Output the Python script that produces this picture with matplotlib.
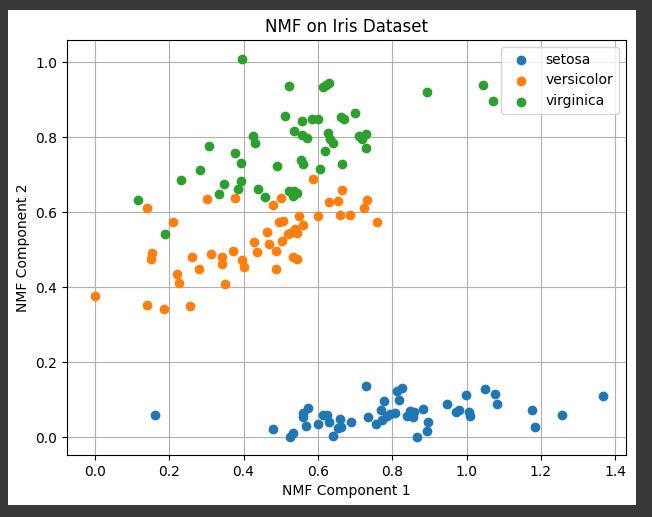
import matplotlib
matplotlib.use("Agg")
import matplotlib.pyplot as plt
from matplotlib.patches import Rectangle

species = ["setosa", "versicolor", "virginica"]

setosa_x = [0.161, 0.478, 0.526, 0.534, 0.559, 0.574, 0.567, 0.599, 0.613, 0.625,
            0.629, 0.641, 0.659, 0.654, 0.663, 0.688, 0.729, 0.736, 0.756, 0.769,
            0.778, 0.772, 0.786, 0.795, 0.808, 0.812, 0.825, 0.818, 0.841, 0.847,
            0.855, 0.859, 0.868, 0.884, 0.896, 0.894, 0.948, 0.971, 0.980, 0.998,
            1.006, 1.010, 1.049, 1.077, 1.082, 1.176, 1.184, 1.256, 1.368, 0.560]
setosa_y = [0.061, 0.022, 0.000, 0.012, 0.065, 0.079, 0.031, 0.036, 0.059, 0.059,
            0.040, 0.004, 0.048, 0.024, 0.027, 0.040, 0.136, 0.054, 0.036, 0.072,
            0.097, 0.046, 0.056, 0.063, 0.064, 0.123, 0.131, 0.099, 0.058, 0.070,
            0.054, 0.068, 0.000, 0.076, 0.040, 0.016, 0.089, 0.068, 0.074, 0.113,
            0.067, 0.056, 0.128, 0.117, 0.090, 0.072, 0.029, 0.059, 0.111, 0.055]

versicolor_x = [0.000, 0.141, 0.185, 0.255, 0.139, 0.155, 0.152, 0.211, 0.220, 0.225,
                0.262, 0.279, 0.301, 0.312, 0.342, 0.341, 0.351, 0.372, 0.377, 0.397,
                0.401, 0.428, 0.435, 0.463, 0.468, 0.480, 0.487, 0.487, 0.496, 0.505,
                0.502, 0.503, 0.519, 0.525, 0.538, 0.545, 0.533, 0.545, 0.549, 0.560,
                0.586, 0.599, 0.630, 0.653, 0.666, 0.660, 0.687, 0.723, 0.733, 0.758]
versicolor_y = [0.377, 0.353, 0.343, 0.351, 0.612, 0.491, 0.477, 0.574, 0.437, 0.413,
                0.482, 0.449, 0.635, 0.490, 0.482, 0.463, 0.408, 0.497, 0.639, 0.473,
                0.454, 0.521, 0.494, 0.548, 0.516, 0.620, 0.497, 0.449, 0.574, 0.578,
                0.639, 0.525, 0.542, 0.544, 0.555, 0.544, 0.480, 0.477, 0.591, 0.566,
                0.690, 0.591, 0.628, 0.631, 0.660, 0.593, 0.593, 0.613, 0.634, 0.574]

virginica_x = [0.396, 0.521, 0.615, 0.621, 0.511, 0.557, 0.585, 0.601, 0.661, 0.670,
               0.700, 0.537, 0.556, 0.570, 0.627, 0.633, 0.640, 0.620, 0.710, 0.426,
               0.431, 0.306, 0.377, 0.393, 0.554, 0.560, 0.491, 0.664, 0.605, 0.282,
               0.231, 0.348, 0.334, 0.393, 0.385, 0.440, 0.458, 0.521, 0.537, 0.532,
               0.117, 0.189, 0.893, 1.043, 1.071, 0.729, 0.719, 0.729, 0.545, 0.630]
virginica_y = [1.009, 0.937, 0.935, 0.941, 0.858, 0.843, 0.850, 0.848, 0.855, 0.848,
               0.865, 0.817, 0.806, 0.799, 0.812, 0.795, 0.786, 0.764, 0.804, 0.803,
               0.786, 0.778, 0.759, 0.732, 0.741, 0.728, 0.723, 0.728, 0.715, 0.714,
               0.687, 0.677, 0.649, 0.683, 0.663, 0.663, 0.642, 0.657, 0.657, 0.644,
               0.632, 0.543, 0.920, 0.939, 0.898, 0.810, 0.795, 0.771, 0.652, 0.945]

fig = plt.figure(figsize=(6.52, 5.17), dpi=100, facecolor="#383838")
fig.patches.append(Rectangle((8/652, 12/517), 628/652, 495/517, transform=fig.transFigure,
                             facecolor="white", edgecolor="none", zorder=-10))
ax = fig.add_axes([67/652, 62/517, 559/652, 415/517])

data = [(setosa_x, setosa_y), (versicolor_x, versicolor_y), (virginica_x, virginica_y)]
for name, (xs, ys) in zip(species, data):
    ax.scatter(xs, ys, label=name, zorder=3)

ax.set_xlim(-0.075, 1.429)
ax.set_ylim(-0.047, 1.06)
ax.set_xticks([0.0, 0.2, 0.4, 0.6, 0.8, 1.0, 1.2, 1.4])
ax.set_yticks([0.0, 0.2, 0.4, 0.6, 0.8, 1.0])
ax.grid(True)
ax.set_title("NMF on Iris Dataset")
ax.set_xlabel("NMF Component 1")
ax.set_ylabel("NMF Component 2")
ax.legend(loc="upper right")

fig.savefig("out.png", dpi=100, facecolor=fig.get_facecolor())
